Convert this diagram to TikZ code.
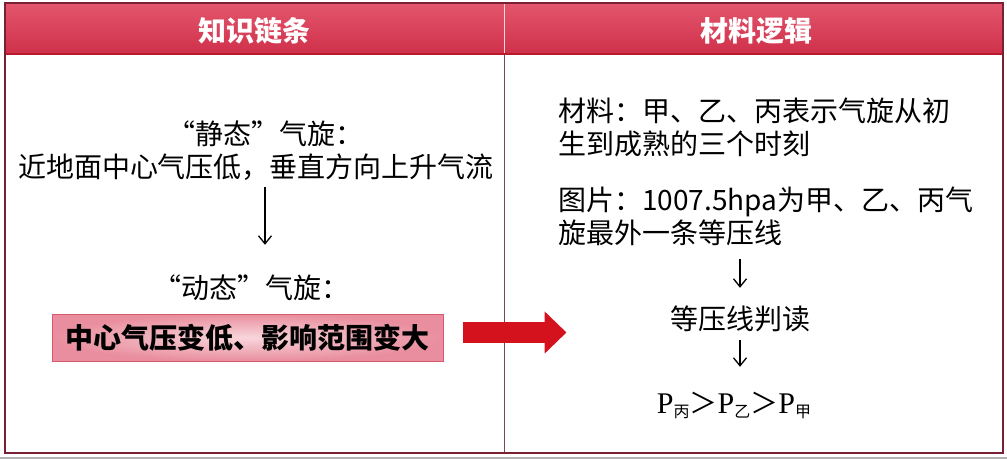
\documentclass[tikz,border=0pt]{standalone}
\usepackage{fontspec}
\setmainfont{Liberation Serif}
\newfontfamily\cjk{Noto Sans CJK SC}
\usetikzlibrary{positioning,arrows.meta}
\definecolor{framered}{HTML}{7A2035}
\definecolor{hdtop}{HTML}{E2566C}
\definecolor{hdbot}{HTML}{D0304A}
\definecolor{hdline}{HTML}{B81A2C}
\definecolor{hlborder}{HTML}{D45A6C}
\definecolor{hlin}{HTML}{F8D6DB}
\definecolor{hlout}{HTML}{E98E9E}
\definecolor{pushred}{HTML}{D4121E}
\begin{document}
\begin{tikzpicture}[x=1pt,y=-1pt]

		\tikzstyle{title}=[text=white,inner sep=0,
			font=\cjk\bfseries\fontsize{28}{28}\selectfont]
		\tikzstyle{txt}=[inner sep=0,text height=24pt,text depth=4pt,
			font=\cjk\fontsize{28}{33}\selectfont]
		\tikzstyle{para}=[inner sep=0,anchor=base west,align=left,
			font=\cjk\fontsize{28}{33}\selectfont]
		\tikzstyle{highlight}=[draw=hlborder,line width=1pt,
			inner color=hlin,outer color=hlout,
			minimum width=391,minimum height=47,inner sep=0,
			font=\cjk\bfseries\fontsize{28}{28}\selectfont]
		\tikzstyle{arrow}=[-{Straight Barb[length=8pt,width=13pt]},
			draw=black,line width=1.3pt]
		\tikzstyle{push}=[draw=pushred,line width=21pt,
			-{Triangle[length=22pt,width=41pt]}]

		\useasboundingbox (0,0) rectangle (1007,460);

		% header band and frame
		\shade[top color=hdtop,bottom color=hdbot]	(5,3) rectangle (1003,54);
		\draw[hdline,line width=1.5pt]	(5,54) -- (1003,54);
		\draw[gray!60,line width=1.5pt]	(0,458) -- (1007,458);
		\draw[hlin,line width=1pt]	(504,3) -- (504,53);
		\draw[framered!60!gray,line width=1pt]	(504,55) -- (504,453);
		\draw[framered,line width=1.5pt]	(5,3) rectangle (1003,453);

		\node[title]	(chain)	at (254,31)	{知识链条};
		\node[title]	(logic)	at (756,31)	{材料逻辑};

		% knowledge chain
		\node[txt]	(static1)	at (265,134)	{“静态”气旋：};
		\node[txt]	(static2)	at (256,167)	{近地面中心气压低，垂直方向上升气流};
		\node[txt]	(dynamic)	at (251,288)	{“动态”气旋：};
		\node[highlight]	(result)	at (247.5,337.5)	{中心气压变低、影响范围变大};

		% material logic
		\node[para]	(material)	at (558,154)	{材料：甲、乙、丙表示气旋从初\\生到成熟的三个时刻};
		\node[para]	(picture)	at (558,243)	{图片：1007.5hpa为甲、乙、丙气\\旋最外一条等压线};
		\node[txt]	(judge)	at (740,319)	{等压线判读};
		\node[inner sep=0,anchor=base,text height=22pt,text depth=6pt,font=\fontsize{30}{30}\selectfont]	(order)	at (734,413)
			{P\raisebox{-4pt}{\cjk\fontsize{16}{16}\selectfont 丙}{\cjk\fontsize{28}{28}\selectfont ＞}P\raisebox{-4pt}{\cjk\fontsize{16}{16}\selectfont 乙}{\cjk\fontsize{28}{28}\selectfont ＞}P\raisebox{-4pt}{\cjk\fontsize{16}{16}\selectfont 甲}};

		\draw[arrow,shorten <=6pt,shorten >=29pt]	(static1.center |- static2.south) -- (static1.center |- dynamic.north);
		\draw[arrow,shorten <=14pt,shorten >=17pt]	(judge.north |- picture.south) -- (judge.north);
		\draw[arrow,shorten <=7pt,shorten >=24pt]	(judge.south) -- (judge.south |- order.north);

		\coordinate[above right=5pt and 19pt of result.east]	(pushtail);
		\draw[push]	(pushtail) -- ++(104,0);

	\end{tikzpicture}
\end{document}
